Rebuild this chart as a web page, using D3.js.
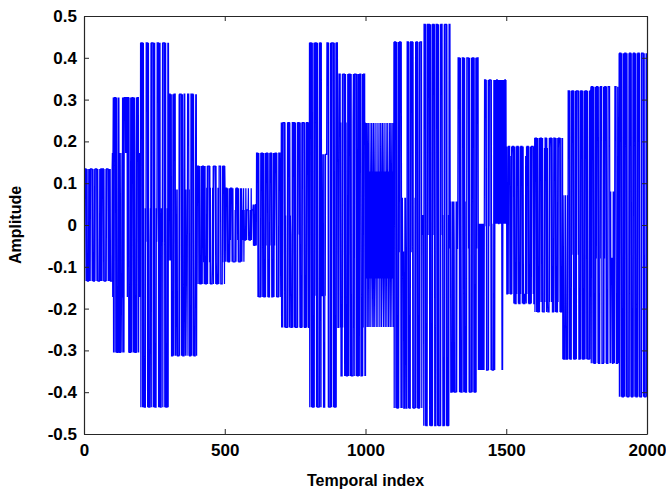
<!DOCTYPE html>
<html>
<head>
<meta charset="utf-8">
<script src="https://cdn.jsdelivr.net/npm/d3@7"></script>
<style>
  html, body { margin: 0; padding: 0; background: #fff; }
  svg { display: block; }
  text { font-family: "Liberation Sans", Arial, Helvetica, sans-serif; font-weight: bold; fill: #000; }
</style>
</head>
<body>
<svg id="chart" width="666" height="492"></svg>
<script>
// Piecewise signal: 20 blocks of 100 samples. Each block switches among
// four levels: +outer (A), -outer (a), +inner (B), -inner (b).
const outerAmp = [0.134, 0.305, 0.436, 0.313, 0.141, 0.088, 0.172, 0.245, 0.436, 0.361,
                  0.244, 0.438, 0.480, 0.400, 0.347, 0.188, 0.208, 0.321, 0.331, 0.411];
const innerAmp = [0.000, 0.172, 0.040, 0.085, 0.089, 0.036, 0.049, 0.023, 0.169, 0.245,
                  0.128, 0.065, 0.024, 0.056, 0.003, 0.165, 0.184, 0.071, 0.080, 0.000];
const blockSymbols = [
  "AaAAAAAaAa AaaaaaAaAa AaAAAAAAaA aAaaaaaAaA AAAAAaAaAa aaaaaAaAaA AaAaAAAAAa AaaaaaaAaA AAAAAaAaAa AaAaaaaaaA",
  "BbBAaBaAAA AAaBbAaaaa aAbAaBaaab BabbbbAaBA baAAAAABAB AAAbABAAaA aaaaaAbAaB AAAAaBaAaA aaaaaBAaAA AAAaBbBbBb",
  "AaAAAAAaAa AbBaaaaaBb AAAAAaAaAa aaaabBbAaA AAAAAaAaBa AaaaaaBbBA AAAAaAaAaA aaaaBbBbAa AAAAAAaAaA aaaaaBaAaA",
  "BbAAAAbABA aaaaaAaBaA AAAAaBabbb BaaaaaaAaA AAAAAaAbaA aaaaaAAAba bBbbbabAAA AAaBaaaaaA AaAAAAAaAb aaaaaBAbAa",
  "AaAAAAAaAa AaaaaaAaAa AAAAbAaBaA aaaaaBbAaA AAAAAbAaBa aaaaabBbAa AAAAAABaAb aaaaaBbBaA AAAAAaaaaa aAbAAAAAaA",
  "AaAAAAAaAa AaaaaaAaAb AAAAAaAaAa aaaaaaBaAa AAAAAbAaAa aaaaaAbBaA aBbBbBAaBb bbbbAbBbBB BBBAbBbbbb bBbAbBBBBB",
  "BbBbbbbBbB BbAAAAAaAa AaaaaaaAaA AAAAaBaAaa aaaAaAbAAA AAaAaaaaaA bAAAAAaaaa aAaAaAbBAA AAAaAaaaaa aAAAAAaBbB",
  "AaAbBaAAAA AAaAbBaaaa aaAaAAAAAa AbBbaaaaaA AaAAAAAaBa AaaaaaaAaA AAAAbBaAaa aaaAaAAAAA AaAaaaaaAa AAAAAaAaaa",
  "AaAAAAAaBa AaaaaaAaAb AAAAAaBaAa aaaaaAaAAA AaAbBbbbbB aaaaaBbBBB BBAAAAAaAa aaaaaAbAaA AAAAAaBaAa aaaaAaAAAA",
  "BbbbbAAAAA bBaaaaaAbA AAAAAaAaAa BaaaaaAbAa AAAAAaAaAa aaaaaBAbBa AAAAAAaAaA aaaaAbAaBA AAAaaaaaAa AbAAAAAaBa",
  "AaBbAbBaBA bBaBbAbBab BAbBbaBAbB abBAbBbaBb AbBaBbBAbB aBbAbBabBA bBbaBAbBba BbABbaBbAb BaBbBAbaBb ABbaBbAbBa",
  "AaAAAAAaBa AaaaaaAaAb AAAAAaAbba BbbbbaaaaB bBbaaaaAAA AAaAaaaaaA AbAAAAAaAa aaaaaBaAaA AAAAaAaaaa aAaAAAAAAa",
  "bBbBbBaAAA AAaAaaaaaA AbAAAAAaBa AaaaaaAaAA AAAbAaaaaa AAAAAaAbAa aaaaaAaAAA AAbBaaaaaA aAAAAAAaAa aaaaBaAAAA",
  "bBaaaaaBbB abaBbaaaaa aBbaBbbBAA AAAaAaAbaa aaaAAAAAaA aAaBaaaaaA AAAAAbAaAa aaaaaAaBaA AAAAaAaaaa aAaAbAAAAA",
  "abBabaBbab BabaBbaBab aBAAAAAbAa aaaaaAaAbA AAAAAaAaBa aaaaaAaAaA BABABAAABA BABBABABAB ABABaAaBAB ABABAAABAB",
  "AbbbbAbAAA AAbBbbbbAb BAAAAAaBaA aaaaaAbAAA AAaAaaaaaA bAAAAAaBaA aaabaabbBb aAbAAAAAaA aaaaaAbAaA AAAAAbAaaa",
  "AaAAAAAaBa AaaaaaAaAb AAAAAbBaAa aaaaaBbAAA AAaAbBbaaa aaAbBAAAAA bBAaaaaaAA AAAaBbAaaa aaAbBAAAAA aAaaaaaAbA",
  "aBbaaaaaBb BbaaaaaBaA AAAAaAaaaa aAbAAAAAaA aaaaaAaBaA AAAAAbAaaa aaAaAAAAAa AaaaaaAaBa AAAAAaBaAa aaaaaAaAAA",
  "AaAAAAAaBa AaaaaaAaAb AAAAAaAaaa aaAbAAAAAa aaaaaAaAbA AAAAaAaaaa aAAAAAAbab BabbbbbaaB abBabAAAAA aaaaaAbaBb",
  "AaAAAAAaAa AaaaaaAaAa AAAAAaAaAa aaaaaAaAAA AAaAaaaaaA aAAAAAaAaA aaaaaAaAAA AAaAaaaaaa AAAAAAaAaA aaaaaaAaAa"
];

const xTickValues = [0, 500, 1000, 1500, 2000];
const xTickLabels = ["0", "500", "1000", "1500", "2000"];
const yTickValues = [-0.5, -0.4, -0.3, -0.2, -0.1, 0, 0.1, 0.2, 0.3, 0.4, 0.5];
const yTickLabels = ["-0.5", "-0.4", "-0.3", "-0.2", "-0.1", "0", "0.1", "0.2", "0.3", "0.4", "0.5"];

// Expand block symbols into the sample sequence (temporal index starts at 1)
const samples = [];
blockSymbols.forEach((str, k) => {
  const syms = str.replace(/\s+/g, "");
  if (syms.length !== 100) throw new Error(`block ${k} has ${syms.length} samples`);
  for (const c of syms) {
    const v = c === "A" ? outerAmp[k] : c === "a" ? -outerAmp[k]
            : c === "B" ? innerAmp[k] : -innerAmp[k];
    samples.push({ t: samples.length + 1, v });
  }
});

const margin = { left: 84, top: 16, right: 19, bottom: 58 };
const W = 666, H = 492;
const pw = W - margin.left - margin.right;   // 563
const ph = H - margin.top - margin.bottom;   // 418

const svg = d3.select("#chart");
const g = svg.append("g").attr("transform", `translate(${margin.left},${margin.top})`);

const x = d3.scaleLinear().domain([0, 2000]).range([0, pw]);
const y = d3.scaleLinear().domain([-0.5, 0.5]).range([ph, 0]);

g.append("clipPath").attr("id", "plotClip")
  .append("rect").attr("width", pw).attr("height", ph);

const line = d3.line().x(d => x(d.t)).y(d => y(d.v));
g.append("path")
  .datum(samples)
  .attr("clip-path", "url(#plotClip)")
  .attr("fill", "none")
  .attr("stroke", "#0000ff")
  .attr("stroke-width", 1.25)
  .attr("d", line);

const axisColor = "#262626";
const tickLen = 5;

const xLab = d3.scaleOrdinal().domain(xTickValues).range(xTickLabels);
const yLab = d3.scaleOrdinal().domain(yTickValues).range(yTickLabels);

const axisBottomG = g.append("g").attr("transform", `translate(0,${ph})`)
  .call(d3.axisBottom(x).tickValues(xTickValues).tickSizeInner(-tickLen).tickSizeOuter(0)
        .tickPadding(10).tickFormat(d => xLab(d)));
const axisLeftG = g.append("g")
  .call(d3.axisLeft(y).tickValues(yTickValues).tickSizeInner(-tickLen).tickSizeOuter(0)
        .tickPadding(7).tickFormat(d => yLab(d)));
const axisTopG = g.append("g")
  .call(d3.axisTop(x).tickValues(xTickValues).tickSizeInner(-tickLen).tickSizeOuter(0).tickFormat(""));
const axisRightG = g.append("g").attr("transform", `translate(${pw},0)`)
  .call(d3.axisRight(y).tickValues(yTickValues).tickSizeInner(-tickLen).tickSizeOuter(0).tickFormat(""));

[axisBottomG, axisLeftG, axisTopG, axisRightG].forEach(a => {
  a.selectAll("path.domain").attr("stroke", axisColor).attr("stroke-width", 1.2);
  a.selectAll(".tick line").attr("stroke", axisColor);
  a.selectAll("text").attr("font-size", 17).attr("font-family", null).attr("fill", "#000");
});

svg.append("text")
  .attr("x", margin.left + pw / 2)
  .attr("y", 486)
  .attr("text-anchor", "middle")
  .attr("font-size", 16)
  .text("Temporal index");

svg.append("text")
  .attr("transform", `translate(21,${margin.top + ph / 2}) rotate(-90)`)
  .attr("text-anchor", "middle")
  .attr("font-size", 16)
  .text("Amplitude");
</script>
</body>
</html>
